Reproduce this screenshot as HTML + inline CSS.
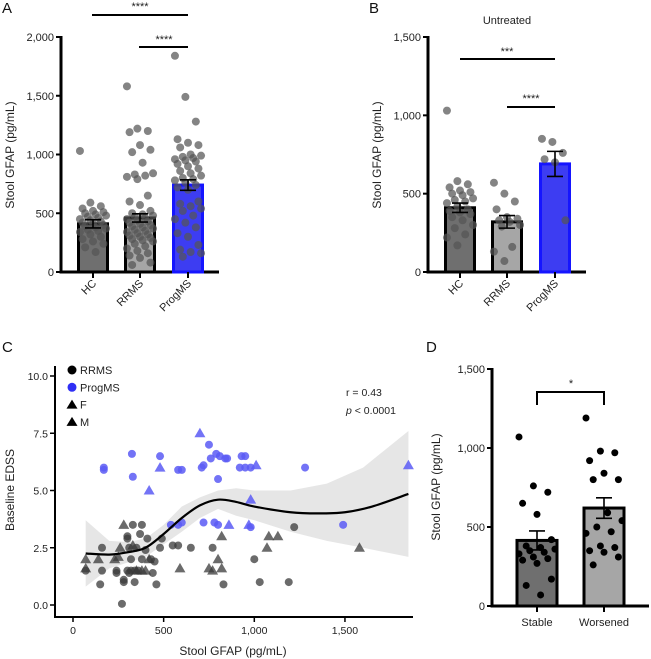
<!DOCTYPE html>
<html><head><meta charset="utf-8"><style>
html,body{margin:0;padding:0;background:#fff}
svg{display:block;font-family:"Liberation Sans",sans-serif}
</style></head><body>
<svg id="fig" width="651" height="659" viewBox="0 0 651 659" xmlns="http://www.w3.org/2000/svg">
<g id="defs"></g>
</svg>
<script>
// ---------- Panel A data ----------
const catsA = ["HC","RRMS","ProgMS"];
const barsA = [410,460,740];
const errA = [35,35,45];
const hcA = [1030,590,560,540,520,510,500,490,480,470,460,450,440,430,420,410,400,390,380,370,360,350,340,320,300,280,260,240,210,170];
const rrA = [1580,1220,1200,1190,1080,1040,1020,930,840,830,820,810,790,650,600,570,520,500,490,480,470,460,450,440,430,420,410,400,390,380,370,360,350,340,330,320,310,300,290,280,270,260,240,220,200,180,160,140,120,80,60];
const pgA = [1840,1490,1280,1130,1100,1080,1060,1000,990,980,970,960,950,940,920,900,880,860,840,820,800,790,780,760,740,720,700,600,580,560,540,520,480,450,420,380,330,300,230,190,170,160,130];
const ticksA = [0,500,1000,1500,2000];
const tickLabelsA = ["0","500","1,000","1,500","2,000"];
// ---------- Panel B data ----------
const catsB = ["HC","RRMS","ProgMS"];
const barsB = [410,320,690];
const errB = [30,40,80];
const hcB = [1030,580,560,540,520,510,500,490,470,460,450,440,420,400,390,380,370,350,330,300,280,240,220,170];
const rrB = [570,500,450,400,350,340,330,320,300,290,160,130,70];
const pgB = [850,830,760,720,700,330];
const ticksB = [0,500,1000,1500];
const tickLabelsB = ["0","500","1,000","1,500"];
// ---------- Panel D data ----------
const catsD = ["Stable","Worsened"];
const barsD = [415,620];
const errD = [60,65];
const stD = [1070,760,720,650,580,420,380,370,360,350,340,330,310,300,290,270,170,130,70];
const woD = [1190,980,970,920,840,800,800,590,540,500,470,460,380,370,350,340,310,260];
// ---------- Panel C data ----------
const progX = [170,170,325,330,480,580,600,750,710,720,760,790,810,840,850,930,950,920,950,980,800,1280,540,580,600,720,780,800,980,1490];
const progY = [6.0,5.9,6.6,5.6,6.5,5.9,5.9,7.0,6.0,6.1,6.4,6.6,6.5,6.4,6.4,6.5,6.5,6.0,6.0,6.0,5.5,6.0,3.5,3.5,3.6,3.6,3.6,3.5,3.4,3.5];
const progTriX = [480,420,700,1010,1850,860,980,970];
const progTriY = [6.0,5.0,7.5,6.1,6.1,3.5,4.6,3.5];
const rrX = [70,150,160,160,240,240,270,280,280,300,300,310,320,330,340,340,350,360,370,380,380,300,310,320,400,410,430,440,450,460,480,490,550,580,650,770,830,1000,1030,1190,1220];
const rrY = [1.5,0.9,2.5,1.5,1.5,1.4,0.05,1.0,1.1,3.0,2.9,2.5,2.0,3.5,1.5,1.0,2.5,1.5,3.1,3.5,2.0,1.5,1.4,1.5,2.4,2.9,2.0,1.4,1.9,0.9,2.5,2.9,2.6,2.6,2.5,2.5,0.9,2.0,1.0,1.0,3.4];
const rrTriX = [70,70,140,230,260,280,250,330,350,380,400,420,590,750,770,800,820,820,1080,1130,1070,1580];
const rrTriY = [2.0,1.6,2.0,2.0,2.5,3.5,2.1,2.6,1.5,1.5,1.5,2.0,1.6,1.6,1.5,2.0,1.6,3.0,3.0,3.0,2.5,2.5];
const fitX = [70,200,300,400,500,600,700,800,900,1000,1200,1350,1500,1650,1850];
const fitY = [2.25,2.2,2.3,2.5,3.1,3.8,4.35,4.6,4.5,4.3,4.05,4.0,4.05,4.3,4.85];
const bandX = [70,200,300,400,500,600,700,800,900,1000,1200,1400,1600,1850];
const bandHi = [3.7,2.8,2.75,2.9,3.5,4.3,4.7,5.0,5.1,5.0,5.0,5.3,6.0,7.6];
const bandLo = [0.8,1.6,1.85,2.1,2.65,3.2,3.8,4.2,3.9,3.7,3.2,2.8,2.5,2.1];
const cXTicks = [0,500,1000,1500];
const cXLabels = ["0","500","1,000","1,500"];
const cYTicks = [0,2.5,5,7.5,10];
const cYLabels = ["0.0","2.5","5.0","7.5","10.0"];

const NS = "http://www.w3.org/2000/svg";
const fig = document.getElementById('fig');
function el(tag, attrs, parent, text){
  const e = document.createElementNS(NS, tag);
  for (const k in attrs) e.setAttribute(k, attrs[k]);
  if (text !== undefined) e.textContent = text;
  (parent || fig).appendChild(e);
  return e;
}
function jit(i, amp){ return (((i*37)%11)-5)/5*amp; }

function barPanel(cfg){
  const g = el('g', {});
  
  
  const y = v => cfg.y0 - (v/cfg.ymax)*(cfg.y0-cfg.ytop);
  // axes
  const ax = el('line',{x1:cfg.ax,y1:cfg.ytop-1,x2:cfg.ax,y2:cfg.y0+1.5,stroke:'#000','stroke-width':3},g);
  
  
  const bx = el('line',{x1:cfg.ax-1.5,y1:cfg.y0,x2:cfg.xend,y2:cfg.y0,stroke:'#000','stroke-width':3},g);
  
  
  cfg.ticks.forEach((t,i)=>{
    el('line',{x1:cfg.ax-5,y1:y(t),x2:cfg.ax,y2:y(t),stroke:'#000','stroke-width':2},g);
    const tl = el('text',{x:cfg.ax-7,y:y(t)+4,'font-size':11,'text-anchor':'end',fill:'#222'},g,cfg.tickLabels[i]);
    
    
  });
  const yl = el('text',{x:0,y:0,'font-size':12,'text-anchor':'middle',fill:'#222',transform:`translate(${cfg.ylx},${cfg.yly}) rotate(-90)`},g,'Stool GFAP (pg/mL)');
  
  
  cfg.cats.forEach((c,i)=>{
    const cx = cfg.cx[i];
    const bar = el('rect',{x:cx-cfg.bw/2,y:y(cfg.bars[i]),width:cfg.bw,height:cfg.y0-y(cfg.bars[i]),fill:cfg.fills[i],stroke:cfg.strokes[i],'stroke-width':3},g);
    
    
    cfg.pts[i].forEach((v,j)=>{
      const p = el('circle',{cx:cx+jit(j,cfg.bw*0.45),cy:y(v),r:cfg.r,fill:cfg.dot,'fill-opacity':cfg.dotOp},g);
      
      
    });
    const e1=y(cfg.bars[i]+cfg.err[i]), e2=y(cfg.bars[i]-cfg.err[i]);
    const eb = el('path',{d:`M${cx},${e1}V${e2}M${cx-8},${e1}H${cx+8}M${cx-8},${e2}H${cx+8}`,stroke:'#000','stroke-width':1.6,fill:'none'},g);
    
    
    el('line',{x1:cx,y1:cfg.y0,x2:cx,y2:cfg.y0+6,stroke:'#000','stroke-width':2},g);
    let lab;
    if (cfg.rot) lab = el('text',{x:0,y:0,'font-size':11,'text-anchor':'end',fill:'#222',transform:`translate(${cx+4},${cfg.y0+12}) rotate(-45)`},g,c);
    else lab = el('text',{x:cx,y:cfg.y0+20,'font-size':11,'text-anchor':'middle',fill:'#222'},g,c);
    
    
  });
  return g;
}

// Panel A
barPanel({name:'panel-a',ax:61,xend:219,y0:272,ytop:37,ymax:2000,ticks:ticksA,tickLabels:tickLabelsA,ylx:14,yly:155,
  cats:catsA,cx:[93,140,188],bw:29,bars:barsA,err:errA,pts:[hcA,rrA,pgA],
  fills:['#6f6f6f','#a6a6a6','#3d3df2'],strokes:['#000','#000','#1515ff'],dot:'#555',dotOp:0.72,r:4,rot:true});
// Panel B
barPanel({name:'panel-b',ax:428,xend:586,y0:272,ytop:37,ymax:1500,ticks:ticksB,tickLabels:tickLabelsB,ylx:381,yly:155,
  cats:catsB,cx:[460,507,555],bw:29,bars:barsB,err:errB,pts:[hcB,rrB,pgB],
  fills:['#6f6f6f','#a6a6a6','#3d3df2'],strokes:['#000','#000','#1515ff'],dot:'#555',dotOp:0.72,r:4,rot:true});
// Panel D
barPanel({name:'panel-d',ax:492,xend:649,y0:606,ytop:369,ymax:1500,ticks:ticksB,tickLabels:tickLabelsB,ylx:440,yly:487,
  cats:catsD,cx:[537,604],bw:40,bars:barsD,err:errD,pts:[stD,woD],
  fills:['#6f6f6f','#a6a6a6'],strokes:['#000','#000'],dot:'#000',dotOp:1,r:3.5,rot:false});

// Significance annotations
function sig(path, tx, ty, txt, name){
  const p = el('path',{d:path,stroke:'#000','stroke-width':2,fill:'none'});
  
  
  const t = el('text',{x:tx,y:ty,'font-size':11,'text-anchor':'middle',fill:'#222'},fig,txt);
  
  
}
sig('M92,15H188',140,10,'****','sig-a-hc-prog');
sig('M139,47H188',164,43,'****','sig-a-rr-prog');
sig('M460,59H555',507,55,'***','sig-b-hc-prog');
sig('M507,107H555',531,102,'****','sig-b-rr-prog');
sig('M537,405V392H604V405',571,387,'*','sig-d');
const ut = el('text',{x:507,y:24,'font-size':11,'text-anchor':'middle',fill:'#222'},fig,'Untreated');



// Panel letters
[['A',2,13],['B',369,13],['C',2,352],['D',426,352]].forEach(([l,x,y])=>{
  const t = el('text',{x:x,y:y,'font-size':15,fill:'#111'},fig,l);
  
  
});

// Panel C scatter
(function(){
  const g = el('g',{});
  
  
  const X = v => 73 + v*0.1813;
  const Y = v => 605 - v*22.9;
  const band = bandX.map((x,i)=>`${X(x)},${Y(bandHi[i])}`).concat(bandX.map((x,i)=>[x,i]).reverse().map(([x,i])=>`${X(x)},${Y(bandLo[i])}`));
  const b = el('polygon',{points:band.join(' '),fill:'#e6e6e6'},g);
  
  
  function tri(x,y,fill,op,name){
    const cx=X(x), cy=Y(y);
    const t = el('polygon',{points:`${cx},${cy-5.5} ${cx-5.5},${cy+4} ${cx+5.5},${cy+4}`,fill:fill,'fill-opacity':op},g);
    
    
  }
  rrX.forEach((x,i)=>{
    const c = el('circle',{cx:X(x),cy:Y(rrY[i]),r:4,fill:'#3a3a3a','fill-opacity':0.75},g);
    
    
  });
  rrTriX.forEach((x,i)=>tri(x,rrTriY[i],'#3a3a3a',0.75,'rrms-triangle'));
  progX.forEach((x,i)=>{
    const c = el('circle',{cx:X(x),cy:Y(progY[i]),r:4,fill:'#5a5af5','fill-opacity':0.85},g);
    
    
  });
  progTriX.forEach((x,i)=>tri(x,progTriY[i],'#5a5af5',0.85,'progms-triangle'));
  // smooth fit
  const pts = fitX.map((x,i)=>[X(x),Y(fitY[i])]);
  let d = `M${pts[0][0]},${pts[0][1]}`;
  for(let i=0;i<pts.length-1;i++){
    const p0=pts[i-1]||pts[i], p1=pts[i], p2=pts[i+1], p3=pts[i+2]||p2;
    d += `C${p1[0]+(p2[0]-p0[0])/6},${p1[1]+(p2[1]-p0[1])/6} ${p2[0]-(p3[0]-p1[0])/6},${p2[1]-(p3[1]-p1[1])/6} ${p2[0]},${p2[1]}`;
  }
  const f = el('path',{d:d,stroke:'#000','stroke-width':2.2,fill:'none'},g);
  
  
  // axes
  const ya = el('line',{x1:55,y1:366,x2:55,y2:617,stroke:'#000','stroke-width':2},g);
  
  
  const xa = el('line',{x1:54,y1:617,x2:413,y2:617,stroke:'#000','stroke-width':2},g);
  
  
  cYTicks.forEach((t,i)=>{
    el('line',{x1:50,y1:Y(t),x2:55,y2:Y(t),stroke:'#000','stroke-width':1.5},g);
    const tl = el('text',{x:48,y:Y(t)+4,'font-size':10.5,'text-anchor':'end',fill:'#222'},g,cYLabels[i]);
    
    
  });
  cXTicks.forEach((t,i)=>{
    el('line',{x1:X(t),y1:617,x2:X(t),y2:622,stroke:'#000','stroke-width':1.5},g);
    const tl = el('text',{x:X(t),y:634,'font-size':10.5,'text-anchor':'middle',fill:'#222'},g,cXLabels[i]);
    
    
  });
  const xt = el('text',{x:233,y:655,'font-size':12,'text-anchor':'middle',fill:'#222'},g,'Stool GFAP (pg/mL)');
  
  
  const yt = el('text',{x:0,y:0,'font-size':12,'text-anchor':'middle',fill:'#222',transform:'translate(14,490) rotate(-90)'},g,'Baseline EDSS');
  
  
  // legend
  const legend = [['RRMS','c','#000'],['ProgMS','c','#2f2ff5'],['F','t','#000'],['M','t','#000']];
  legend.forEach(([lab,shape,col],i)=>{
    const ly = 370 + i*17.3;
    if (shape==='c') el('circle',{cx:72,cy:ly,r:4.5,fill:col},g);
    else el('polygon',{points:`72,${ly-5} 66.5,${ly+4} 77.5,${ly+4}`,fill:col},g);
    const t = el('text',{x:80,y:ly+4,'font-size':11,fill:'#222'},g,lab);
    
    
  });
  const r = el('text',{x:346,y:396,'font-size':10.5,fill:'#222'},g,'r = 0.43');
  
  
  const p = el('text',{x:346,y:414,'font-size':10.5,fill:'#222'},g);
  
  
  el('tspan',{'font-style':'italic'},p,'p');
  el('tspan',{},p,' < 0.0001');
})();
</script>
</body></html>
